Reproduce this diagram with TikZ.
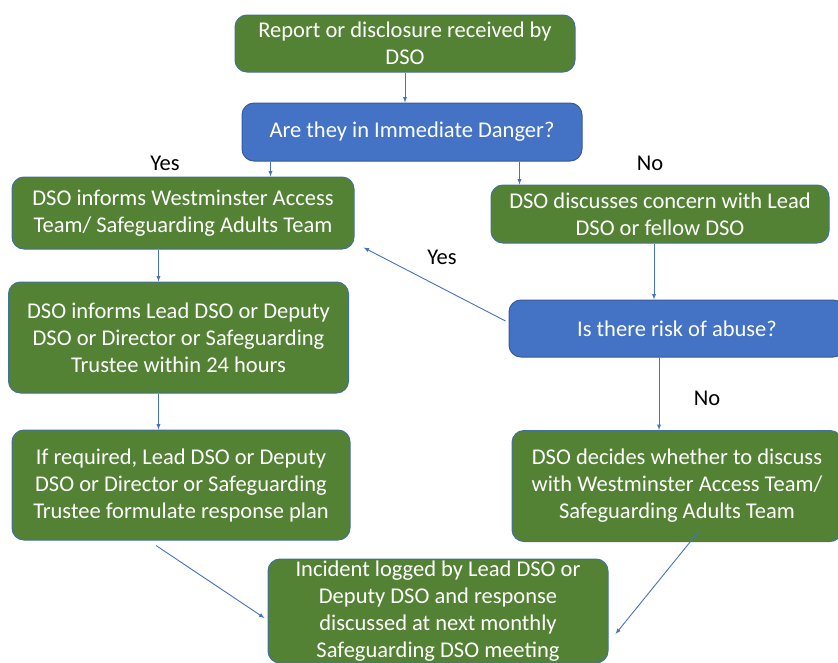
\documentclass[tikz,border=0pt]{standalone}
\usepackage{fontspec}
\setmainfont{Carlito}
\definecolor{boxgreen}{HTML}{548235}
\definecolor{boxblue}{HTML}{4472C4}
\definecolor{edgeblue}{HTML}{41719C}
\begin{document}
\begin{tikzpicture}[>=latex, x=1pt, y=-1pt,
    every node/.style={font=\fontsize{22.5}{27}\selectfont},
    act/.style={draw=edgeblue, line width=1pt, fill=boxgreen, text=white, rounded corners=12pt, align=center, inner sep=0pt},
    ask/.style={act, fill=boxblue, draw=boxblue!80!black},
    link/.style={->, draw=boxblue, line width=0.9pt}]
    \useasboundingbox (0,0) rectangle (838,662);
    % boxes
    \node[act, minimum width=340pt, minimum height=57pt] (rep) at (405,43.5) {Report or disclosure received by\\DSO};
    \node[ask, minimum width=340pt, minimum height=58pt] (danger) at (412,132) {Are they in Immediate Danger?};
    \node[act, minimum width=342pt, minimum height=72pt] (wat) at (183,213) {DSO informs Westminster Access\\Team/ Safeguarding Adults Team};
    \node[act, minimum width=338pt, minimum height=58pt] (lead) at (660,214) {DSO discusses concern with Lead\\DSO or fellow DSO};
    \node[act, minimum width=340pt, minimum height=111pt] (inform) at (178.5,337.5) {DSO informs Lead DSO or Deputy\\DSO or Director or Safeguarding\\Trustee within 24 hours};
    \node[ask, minimum width=336pt, minimum height=57pt] (risk) at (677,328.5) {Is there risk of abuse?};
    \node[act, minimum width=338pt, minimum height=110pt] (plan) at (181,485) {If required, Lead DSO or Deputy\\DSO or Director or Safeguarding\\Trustee formulate response plan};
    \node[act, minimum width=330pt, minimum height=111pt] (decide) at (677,486) {DSO decides whether to discuss\\with Westminster Access Team/\\Safeguarding Adults Team};
    \node[act, minimum width=340pt, minimum height=104pt] (log) at (438,611) {Incident logged by Lead DSO or\\Deputy DSO and response\\discussed at next monthly\\Safeguarding DSO meeting};
    % arrows
    \draw[link] (rep.south) -- (rep.south |- danger.north);
    \draw[link] ([xshift=29pt]danger.south west) -- ([xshift=29pt]danger.south west |- wat.north);
    \draw[link] ([xshift=-63pt]danger.south east) -- ([xshift=-63pt]danger.south east |- lead.north);
    \draw[link] ([xshift=147pt]wat.south west) -- ([xshift=147pt]wat.south west |- inform.north);
    \draw[link] ([xshift=150.5pt]inform.south west) -- ([xshift=150.5pt]inform.south west |- plan.north);
    \draw[link] ([xshift=-6pt]lead.south) -- ([xshift=-6pt]lead.south |- risk.north);
    \draw[link] ([xshift=-18pt]risk.south) -- ([xshift=-18pt]risk.south |- decide.north);
    \draw[link] ([xshift=-3pt,yshift=7.5pt]risk.west) -- ([xshift=9pt,yshift=2pt]wat.south east);
    \draw[link] ([xshift=-25pt,yshift=-5pt]plan.south) -- ([xshift=-3pt,yshift=-7pt]log.west);
    \draw[link] ([xshift=22pt,yshift=11pt]decide.south) -- ([xshift=7pt,yshift=-23pt]log.east);
    % labels
    \node (yes1) at (165,163) {Yes};
    \node (no1) at (650,163) {No};
    \node (yes2) at (442,257) {Yes};
    \node (no2) at (707,398) {No};
\end{tikzpicture}
\end{document}
